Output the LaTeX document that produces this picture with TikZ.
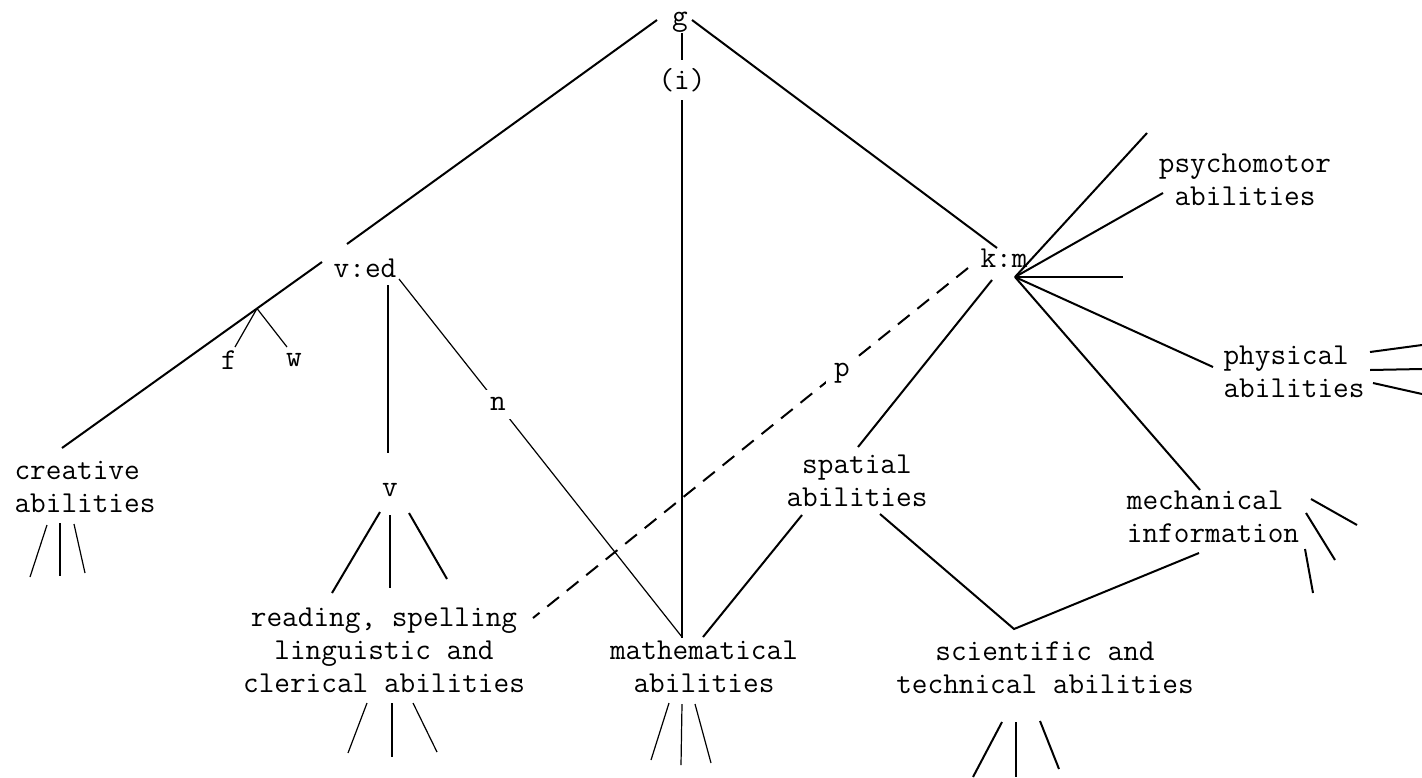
\documentclass[tikz,border=0pt]{standalone}
\usepackage{fontspec}
\usepackage{tikz}
\tikzstyle{lbl} = [%
  align=center,
  inner sep=2pt,
  text=black
]
\tikzstyle{onlink} = [%
  fill=white,
  inner sep=4pt
]

\begin{document}
\begin{tikzpicture}[%
  x=0.5pt, y=-0.5pt,
  line width=1pt,
  every node/.style={%
    font=\ttfamily\fontsize{15.2}{16.5}\selectfont
  },
  fine/.style={line width=0.6pt},
  dashlink/.style={dash pattern=on 7.5pt off 5pt}
]
  \useasboundingbox (0,0) rectangle (1422,777);

  % Nodes
  \node[lbl] (g) at (680,22) {g};
  \node[lbl] (ved) at (365,268) {v:ed};
  \node[lbl] (km) at (1004,258) {k:m};
  \node[lbl] (f) at (229,360) {f};
  \node[lbl] (w) at (294,360) {w};
  \node[lbl] (v) at (390,490) {v};
  \node[lbl,align=left] (creative) at (85,487) {creative\\abilities};
  \node[lbl] (reading) at (384,650) {reading, spelling\\linguistic and\\clerical abilities};
  \node[lbl] (math) at (704,667) {mathematical\\abilities};
  \node[lbl] (spatial) at (857,481) {spatial\\abilities};
  \node[lbl,align=left] (mech) at (1213,517) {mechanical\\information};
  \node[lbl] (sci) at (1045,668) {scientific and\\technical abilities};
  \node[lbl] (psycho) at (1245,180) {psychomotor\\abilities};
  \node[lbl,align=left] (phys) at (1294,372) {physical\\abilities};
  \coordinate (hub) at ([shift={(11,19)}]km.center);
  \coordinate (pmtop) at ([shift={(-98,-47)}]psycho.center);
  \coordinate (hz) at ([shift={(108,0)}]hub);

  % Edges from g
  \draw ([shift={(-23,-2)}]g.center) -- ([shift={(-18,-24)}]ved.center);
  \draw ([shift={(12,-2)}]g.center) -- ([shift={(-7,-10)}]km.center);
  \draw[fine] ([shift={(2,11)}]g.center) -- node[onlink,pos=0.078] (i) {(i)} ([shift={(-22,-29)}]math.center);

  % Edges from v:ed
  \draw[fine] ([shift={(23,17)}]ved.center) -- ([shift={(-2,-37)}]v.center);
  \draw[fine] ([shift={(34,11)}]ved.center) -- node[onlink,pos=0.35] (n) {n} ([shift={(-22,-30)}]math.center);
  \draw ([shift={(-43,-6)}]ved.center) -- coordinate[pos=0.25] (fork) ([shift={(-23,-39)}]creative.center);
  \draw[fine] (fork) -- ([shift={(6,-13)}]f.center);
  \draw[fine] (fork) -- ([shift={(-7,-13)}]w.center);
  \draw ([shift={(-10,22)}]v.center) -- ([shift={(-52,-57)}]reading.center);
  \draw[fine] ([shift={(0,25)}]v.center) -- ([shift={(6,-62)}]reading.center);
  \draw ([shift={(19,23)}]v.center) -- ([shift={(63,-71)}]reading.center);

  % Edges from k:m
  \draw[dashlink] ([shift={(-36,10)}]km.center) -- node[onlink,pos=0.29,yshift=-2pt] (p) {p} ([shift={(149,-32)}]reading.center);
  \draw ([shift={(-12,22)}]km.center) -- ([shift={(1,-34)}]spatial.center);
  \draw ([shift={(-55,34)}]spatial.center) -- ([shift={(-1,-30)}]math.center);
  \draw ([shift={(23,33)}]spatial.center) -- ([shift={(-31,-39)}]sci.center) -- ([shift={(-14,36)}]mech.center);
  \draw (hub) -- (pmtop);
  \draw (hub) -- ([shift={(-82,13)}]psycho.center);
  \draw (hub) -- (hz);
  \draw (hub) -- ([shift={(-81,-5)}]phys.center);
  \draw (hub) -- ([shift={(-13,-27)}]mech.center);

  % Open ends
  \draw[fine] ([shift={(-38,38)}]creative.center) -- ([shift={(-55,90)}]creative.center);
  \draw[fine] ([shift={(-25,36)}]creative.center) -- ([shift={(-25,89)}]creative.center);
  \draw[fine] ([shift={(-11,37)}]creative.center) -- ([shift={(0,86)}]creative.center);
  \draw[fine] ([shift={(-17,53)}]reading.center) -- ([shift={(-36,103)}]reading.center);
  \draw[fine] ([shift={(8,53)}]reading.center) -- ([shift={(8,107)}]reading.center);
  \draw[fine] ([shift={(29,53)}]reading.center) -- ([shift={(53,102)}]reading.center);
  \draw[fine] ([shift={(-35,36)}]math.center) -- ([shift={(-53,93)}]math.center);
  \draw[fine] ([shift={(-22,37)}]math.center) -- ([shift={(-23,98)}]math.center);
  \draw[fine] ([shift={(-9,37)}]math.center) -- ([shift={(7,96)}]math.center);
  \draw ([shift={(-43,54)}]sci.center) -- ([shift={(-72,109)}]sci.center);
  \draw ([shift={(-29,54)}]sci.center) -- ([shift={(-29,109)}]sci.center);
  \draw ([shift={(-5,53)}]sci.center) -- ([shift={(14,101)}]sci.center);
  \draw ([shift={(98,-18)}]mech.center) -- ([shift={(144,8)}]mech.center);
  \draw ([shift={(93,-4)}]mech.center) -- ([shift={(122,43)}]mech.center);
  \draw ([shift={(92,32)}]mech.center) -- ([shift={(100,76)}]mech.center);
  \draw ([shift={(76,-20)}]phys.center) -- ([shift={(128,-27)}]phys.center);
  \draw ([shift={(76,-2)}]phys.center) -- ([shift={(128,-3)}]phys.center);
  \draw ([shift={(79,11)}]phys.center) -- ([shift={(128,22)}]phys.center);

\end{tikzpicture}
\end{document}
